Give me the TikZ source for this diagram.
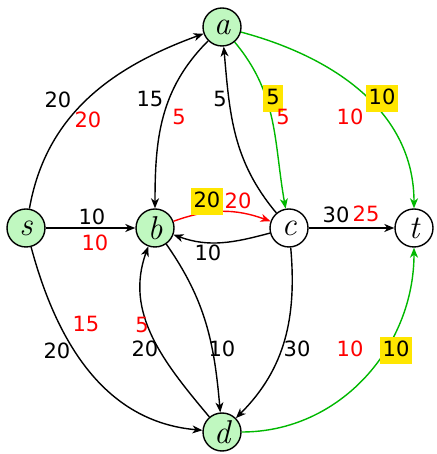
\documentclass[tikz,border=0pt]{standalone}
\usepackage{fontspec}
\newfontfamily\lblfont{DejaVu Sans}
\usetikzlibrary{arrows.meta}
\definecolor{nodegreen}{RGB}{192,248,192}
\definecolor{flowgreen}{RGB}{0,184,0}
\definecolor{hl}{RGB}{255,230,0}
\begin{document}
\begin{tikzpicture}[x=1pt,y=1pt,
  vert/.style={circle, draw, line width=1.4pt, minimum size=38pt, inner sep=0pt, font=\fontsize{33}{36}\selectfont\itshape},
  src/.style={vert, fill=nodegreen},
  lbl/.style={font=\lblfont\fontsize{21}{25}\selectfont, text height=17pt, text depth=6pt, inner sep=0pt},
  flow/.style={lbl, text=red},
  hlbl/.style={lbl, fill=hl, inner xsep=3pt, inner ysep=2pt},
  arc/.style={draw, line width=1.4pt, -{Stealth[length=10pt,width=8pt,inset=3pt]}},
  garc/.style={arc, flowgreen},
  rarc/.style={arc, red}]
\useasboundingbox (0,0) rectangle (436,454);
% vertices
\node[src]  (s) at (26,226)  {s};
\node[src]  (a) at (222,427) {a};
\node[src]  (b) at (155,226) {b};
\node[vert] (c) at (289,226) {c};
\node[vert] (t) at (414,226) {t};
\node[src]  (d) at (222,22)  {d};
% edges
\draw[arc]  (s) to[out=80, in=200] (a);
\draw[arc]  (a) to[out=225, in=90] (b);
\draw[arc]  (c) to[out=130, in=275] (a);
\draw[garc] (a) to[out=-50, in=100] (c);
\draw[garc] (a) to[out=-15, in=90] (t);
\draw[arc]  (s) -- (b);
\draw[rarc] (b) to[out=20, in=160] (c);
\draw[arc]  (c) to[out=195, in=-20] (b);
\draw[arc]  (c) -- (t);
\draw[arc]  (s) to[out=-75, in=175] (d);
\draw[arc]  (d) to[out=130, in=-110] (b);
\draw[arc]  (b) to[out=-55, in=95] (d);
\draw[arc]  (c) to[out=-85, in=45] (d);
\draw[garc] (d) to[out=0, in=-90] (t);
% labels
\node[lbl]  (l1)  at (58,352)  {20};
\node[flow] (f1)  at (88,332)  {20};
\node[lbl]  (l2)  at (150,353) {15};
\node[flow] (f2)  at (179,335) {5};
\node[lbl]  (l3)  at (220,353) {5};
\node[hlbl] (l4)  at (273,355) {5};
\node[flow] (f4)  at (283,335) {5};
\node[flow] (f5)  at (350,335) {10};
\node[hlbl] (l5)  at (382,355) {10};
\node[lbl]  (l6)  at (92,235)  {10};
\node[flow] (f6)  at (95,209)  {10};
\node[hlbl] (l7)  at (207,252) {20};
\node[flow] (f7)  at (238,251) {20};
\node[lbl]  (l8)  at (208,199) {10};
\node[lbl]  (l9)  at (336,237) {30};
\node[flow] (f9)  at (366,238) {25};
\node[flow] (f10) at (86,128)  {15};
\node[lbl]  (l10) at (57,101)  {20};
\node[flow] (f11) at (142,127) {5};
\node[lbl]  (l11) at (145,103) {20};
\node[lbl]  (l12) at (222,103) {10};
\node[lbl]  (l13) at (297,103) {30};
\node[flow] (f14) at (350,103) {10};
\node[hlbl] (l14) at (396,103) {10};
\end{tikzpicture}
\end{document}
